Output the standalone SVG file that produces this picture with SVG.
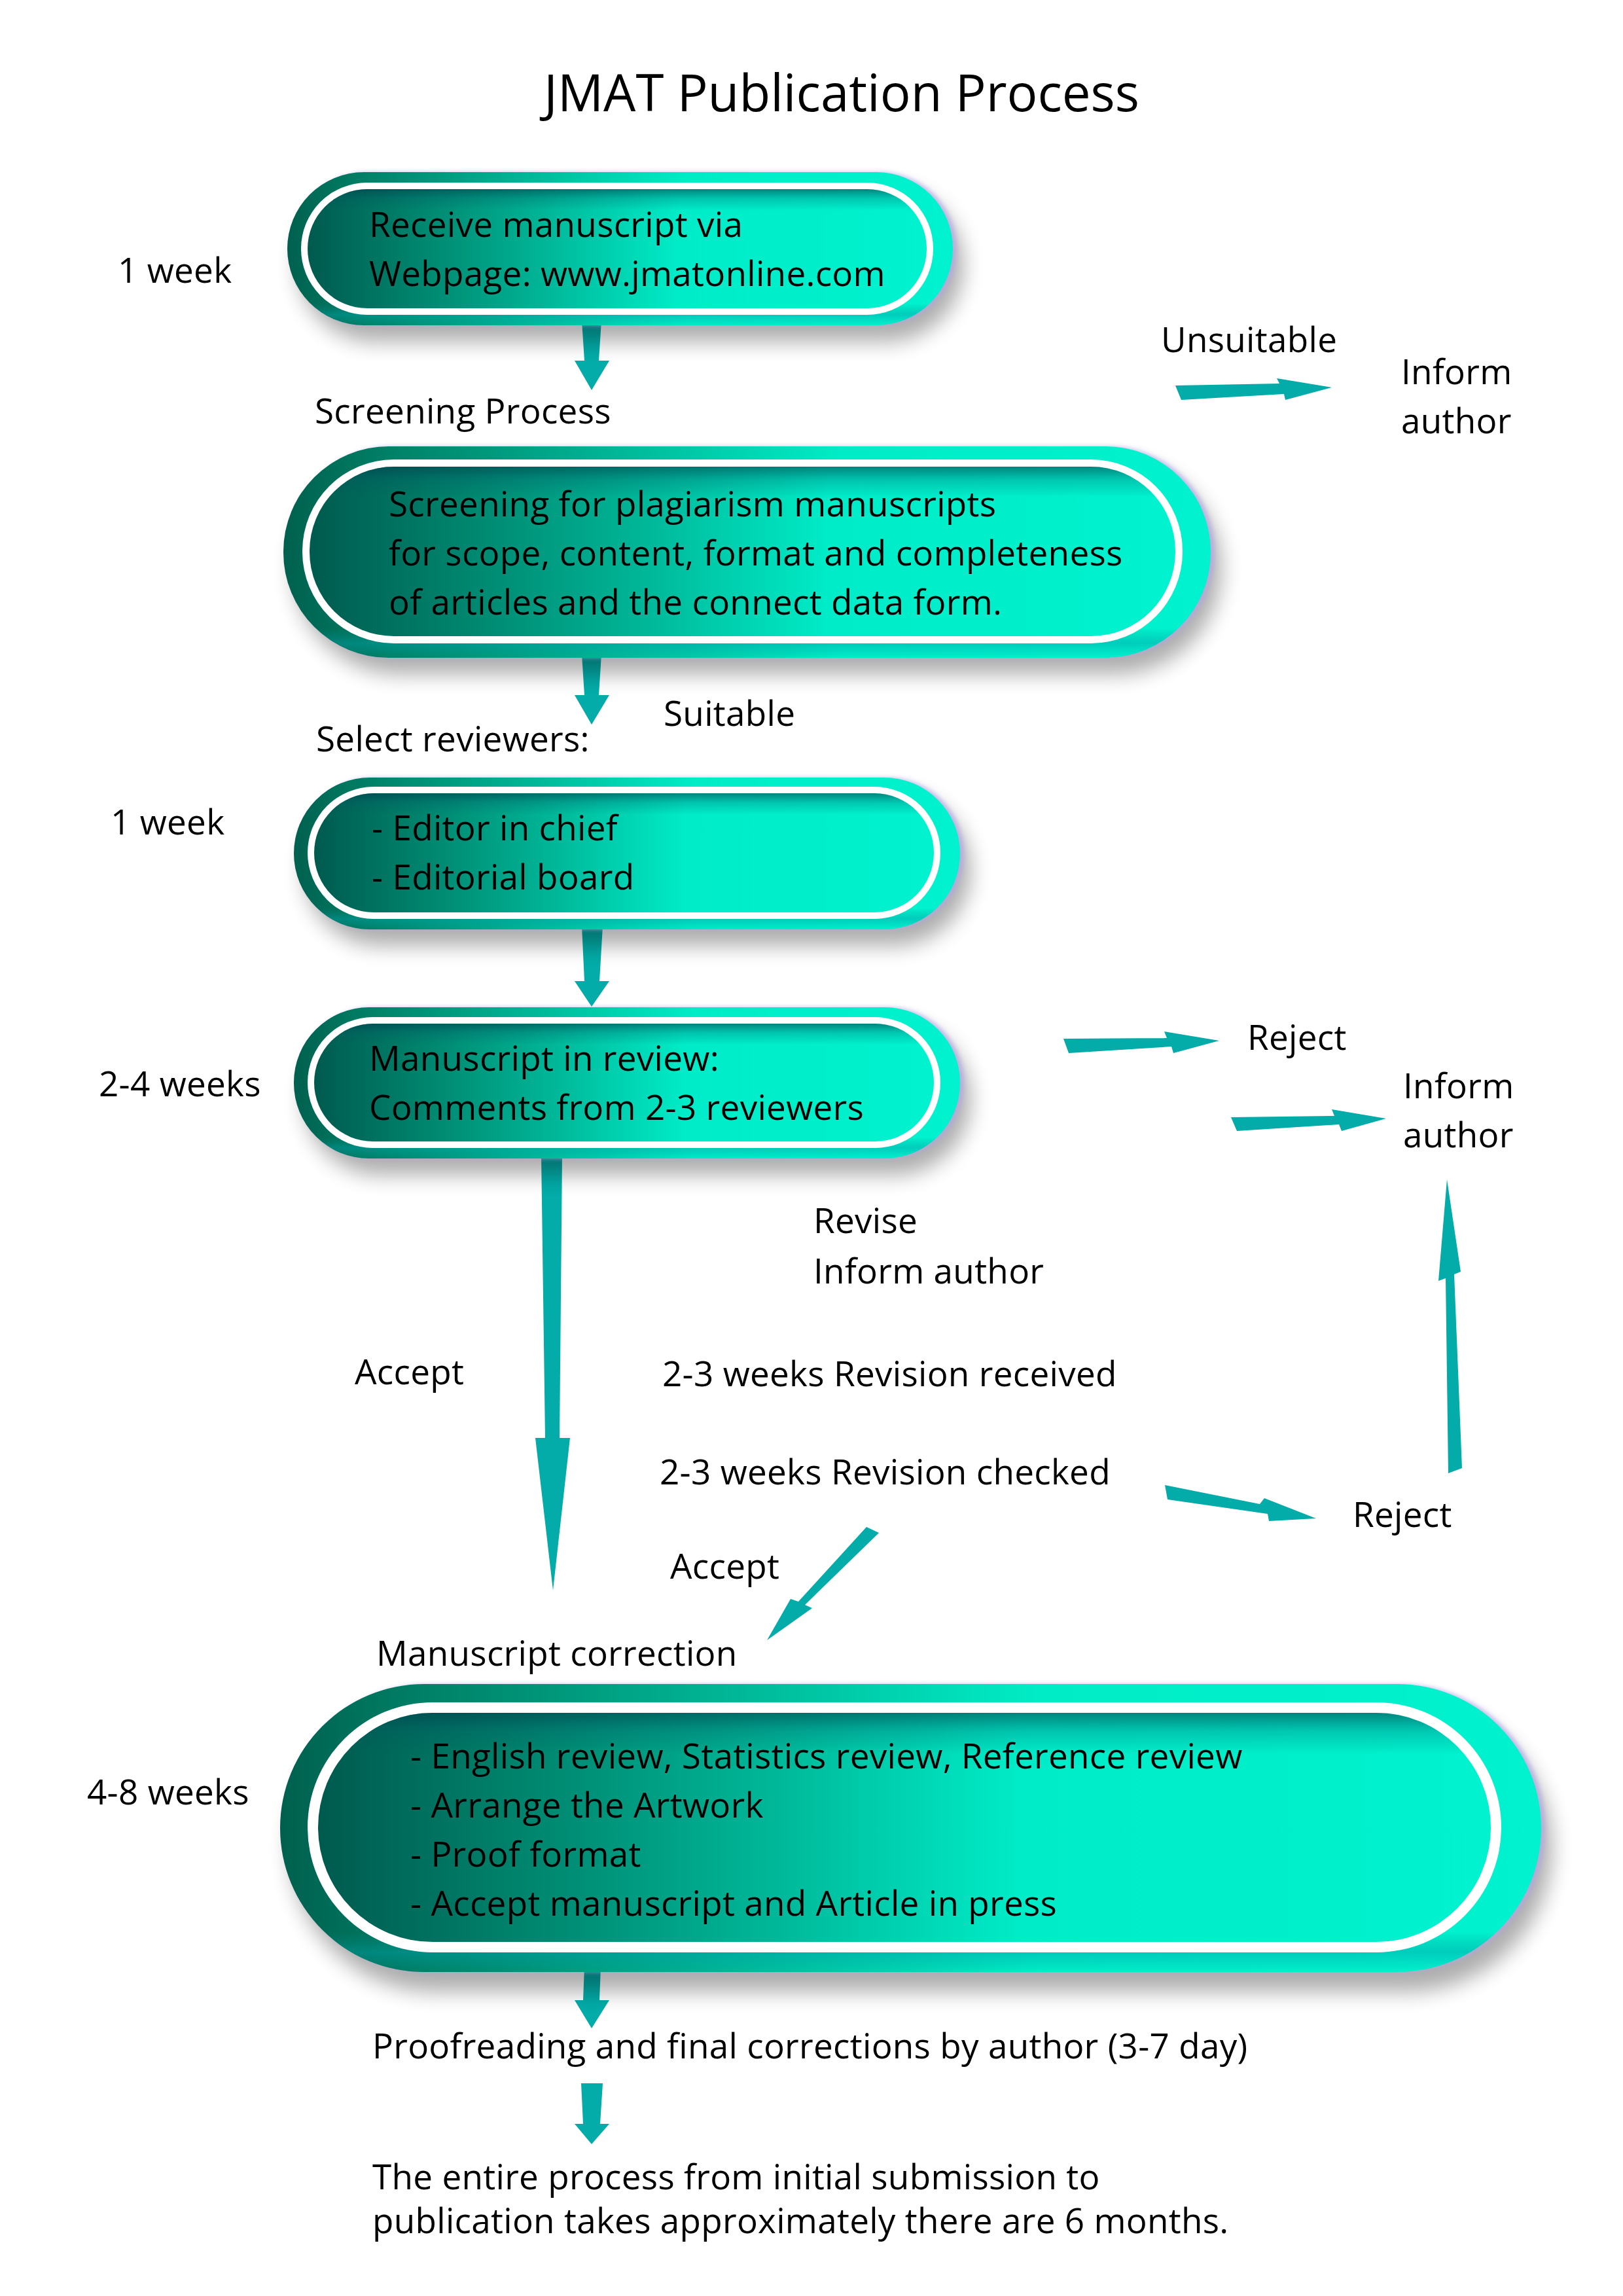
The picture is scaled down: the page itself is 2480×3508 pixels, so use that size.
<svg xmlns="http://www.w3.org/2000/svg" width="2480" height="3508" viewBox="0 0 2480 3508">
<defs>
<style>
.t{font-family:"Open Sans","Noto Sans","DejaVu Sans",sans-serif;font-size:53px;letter-spacing:0.3px;fill:#000}
.title{font-size:78px;letter-spacing:0}
.arrow{fill:#03aca8}
.shadow{fill:#000;opacity:0.32;filter:url(#blur)}
.edge{fill:#b2a8e8;opacity:0.7}
.outer{fill:url(#gOuter)}
.bevel{fill:url(#gBevel)}
.ring{fill:#fff}
.inner{fill:url(#gInner)}
.ishade{fill:url(#gShade)}
</style>
<filter id="blur" x="-10%" y="-30%" width="120%" height="160%"><feGaussianBlur stdDeviation="16"/></filter>
<filter id="soft" x="-5%" y="-5%" width="110%" height="110%"><feGaussianBlur stdDeviation="3"/></filter>
<linearGradient id="gOuter" x1="0" y1="0" x2="1" y2="0">
<stop offset="0" stop-color="#00604e"/>
<stop offset="0.12" stop-color="#008268"/>
<stop offset="0.35" stop-color="#00b595"/>
<stop offset="0.6" stop-color="#00ecc6"/>
<stop offset="1" stop-color="#00f2ce"/>
</linearGradient>
<linearGradient id="gInner" x1="0" y1="0" x2="1" y2="0">
<stop offset="0" stop-color="#005a4e"/>
<stop offset="0.15" stop-color="#007e68"/>
<stop offset="0.35" stop-color="#00ae90"/>
<stop offset="0.6" stop-color="#00ecc8"/>
<stop offset="1" stop-color="#00f2ce"/>
</linearGradient>
<linearGradient id="gBevel" x1="0" y1="0" x2="0" y2="1">
<stop offset="0" stop-color="#008a8a" stop-opacity="0"/>
<stop offset="0.86" stop-color="#008a8a" stop-opacity="0"/>
<stop offset="0.93" stop-color="#00a0a8" stop-opacity="0.45"/>
<stop offset="1" stop-color="#00a0a8" stop-opacity="0"/>
</linearGradient>
<linearGradient id="gShade" x1="0" y1="0" x2="0" y2="1">
<stop offset="0" stop-color="#003c48" stop-opacity="0.6"/>
<stop offset="0.08" stop-color="#005060" stop-opacity="0.25"/>
<stop offset="0.18" stop-color="#005060" stop-opacity="0"/>
</linearGradient>
</defs>
<rect x="0" y="0" width="2480" height="3508" fill="#fff"/>

<g id="connectors">
<polygon class="arrow" points="889,490 919,490 915,551 931,551 904,596 878,551 893,551"/>
<polygon class="arrow" points="889,1000 919,1000 915,1062 931,1062 904,1107 878,1062 893,1062"/>
<polygon class="arrow" points="889,1415 921,1415 916,1499 931,1499 904,1538 878,1499 893,1499"/>
<polygon class="arrow" points="893,3005 918,3005 916,3056 931,3056 904,3099 878,3056 891,3056"/>
<polygon class="arrow" points="888,3183 921,3183 917,3245 931,3245 904,3276 878,3245 891,3245"/>
<polygon class="arrow" points="1796,589 1955,586 1951,578 2035,592 1964,611 1962,602 1805,611"/>
<polygon class="arrow" points="1625,1587 1783,1586 1779,1576 1863,1590 1793,1609 1790,1599 1633,1609"/>
<polygon class="arrow" points="1881,1707 2039,1705 2035,1695 2118,1709 2050,1728 2046,1718 1890,1728"/>
<polygon class="arrow" points="827,1765 859,1765 855,2197 871,2197 845,2430 818,2197 833,2197"/>
<polygon class="arrow" points="2213,2251 2209,1953 2198,1957 2211,1802 2232,1943 2222,1947 2234,2243"/>
<polygon class="arrow" points="1780,2269 1925,2298 1932,2289 2011,2320 1939,2324 1937,2313 1784,2291"/>
<polygon class="arrow" points="1324,2333 1220,2447 1208,2443 1172,2506 1241,2457 1230,2452 1343,2342"/>
</g>

<g id="title"><text class="t title" x="1286" y="170" text-anchor="middle">JMAT Publication Process</text></g>

<g id="node1">
<rect class="shadow" x="455" y="288" width="1017" height="234" rx="117"/>
<rect class="edge" filter="url(#soft)" x="445" y="263" width="1017" height="234" rx="117"/>
<rect class="outer" x="439" y="263" width="1017" height="234" rx="117"/>
<rect class="bevel" x="439" y="263" width="1017" height="234" rx="117"/>
<rect class="ring" x="460" y="279" width="966" height="202" rx="101"/>
<rect class="inner" x="470" y="289" width="946" height="182" rx="91"/>
<rect class="ishade" x="470" y="289" width="946" height="182" rx="91"/>
<text class="t" x="564" y="362">Receive manuscript via</text>
<text class="t" x="564" y="437">Webpage: www.jmatonline.com</text>
</g>

<g id="node2">
<rect class="shadow" x="449" y="707" width="1417" height="323" rx="161"/>
<rect class="edge" filter="url(#soft)" x="439" y="682" width="1417" height="323" rx="161"/>
<rect class="outer" x="433" y="682" width="1417" height="323" rx="161"/>
<rect class="bevel" x="433" y="682" width="1417" height="323" rx="161"/>
<rect class="ring" x="462" y="702" width="1345" height="281" rx="140"/>
<rect class="inner" x="473" y="713" width="1323" height="259" rx="129"/>
<rect class="ishade" x="473" y="713" width="1323" height="259" rx="129"/>
<text class="t" x="594" y="789">Screening for plagiarism manuscripts</text>
<text class="t" x="594" y="864">for scope, content, format and completeness</text>
<text class="t" x="594" y="939">of articles and the connect data form.</text>
</g>

<g id="node3">
<rect class="shadow" x="465" y="1213" width="1018" height="232" rx="116"/>
<rect class="edge" filter="url(#soft)" x="455" y="1188" width="1018" height="232" rx="116"/>
<rect class="outer" x="449" y="1188" width="1018" height="232" rx="116"/>
<rect class="bevel" x="449" y="1188" width="1018" height="232" rx="116"/>
<rect class="ring" x="470" y="1202" width="967" height="202" rx="101"/>
<rect class="inner" x="480" y="1212" width="947" height="182" rx="91"/>
<rect class="ishade" x="480" y="1212" width="947" height="182" rx="91"/>
<text class="t" x="568" y="1284">- Editor in chief</text>
<text class="t" x="568" y="1359">- Editorial board</text>
</g>

<g id="node4">
<rect class="shadow" x="465" y="1564" width="1018" height="231" rx="115"/>
<rect class="edge" filter="url(#soft)" x="455" y="1539" width="1018" height="231" rx="115"/>
<rect class="outer" x="449" y="1539" width="1018" height="231" rx="115"/>
<rect class="bevel" x="449" y="1539" width="1018" height="231" rx="115"/>
<rect class="ring" x="470" y="1554" width="967" height="200" rx="100"/>
<rect class="inner" x="480" y="1564" width="947" height="180" rx="90"/>
<rect class="ishade" x="480" y="1564" width="947" height="180" rx="90"/>
<text class="t" x="564" y="1636">Manuscript in review:</text>
<text class="t" x="564" y="1711">Comments from 2-3 reviewers</text>
</g>

<g id="node5">
<rect class="shadow" x="444" y="2603" width="1927" height="440" rx="220"/>
<rect class="edge" filter="url(#soft)" x="434" y="2573" width="1927" height="440" rx="220"/>
<rect class="outer" x="428" y="2573" width="1927" height="440" rx="220"/>
<rect class="bevel" x="428" y="2573" width="1927" height="440" rx="220"/>
<rect class="ring" x="470" y="2601" width="1824" height="382" rx="191"/>
<rect class="inner" x="486" y="2617" width="1792" height="350" rx="175"/>
<rect class="ishade" x="486" y="2617" width="1792" height="350" rx="175"/>
<text class="t" x="627" y="2702">- English review, Statistics review, Reference review</text>
<text class="t" x="627" y="2777">- Arrange the Artwork</text>
<text class="t" x="627" y="2852">- Proof format</text>
<text class="t" x="627" y="2927">- Accept manuscript and Article in press</text>
</g>

<g id="labels">
<text class="t" x="180" y="432">1 week</text>
<text class="t" x="481" y="647">Screening Process</text>
<text class="t" x="1774" y="538">Unsuitable</text>
<text class="t" x="2141" y="587">Inform</text>
<text class="t" x="2141" y="662">author</text>
<text class="t" x="1014" y="1109">Suitable</text>
<text class="t" x="483" y="1148">Select reviewers:</text>
<text class="t" x="169" y="1275">1 week</text>
<text class="t" x="151" y="1675">2-4 weeks</text>
<text class="t" x="1906" y="1604">Reject</text>
<text class="t" x="2144" y="1678">Inform</text>
<text class="t" x="2144" y="1753">author</text>
<text class="t" x="1243" y="1884">Revise</text>
<text class="t" x="1243" y="1961">Inform author</text>
<text class="t" x="542" y="2115">Accept</text>
<text class="t" x="1012" y="2118">2-3 weeks Revision received</text>
<text class="t" x="1008" y="2268">2-3 weeks Revision checked</text>
<text class="t" x="2067" y="2333">Reject</text>
<text class="t" x="1024" y="2412">Accept</text>
<text class="t" x="575" y="2545">Manuscript correction</text>
<text class="t" x="133" y="2757">4-8 weeks</text>
<text class="t" x="569" y="3145">Proofreading and final corrections by author (3-7 day)</text>
<text class="t" x="569" y="3345">The entire process from initial submission to</text>
<text class="t" x="569" y="3412">publication takes approximately there are 6 months.</text>
</g>
</svg>
